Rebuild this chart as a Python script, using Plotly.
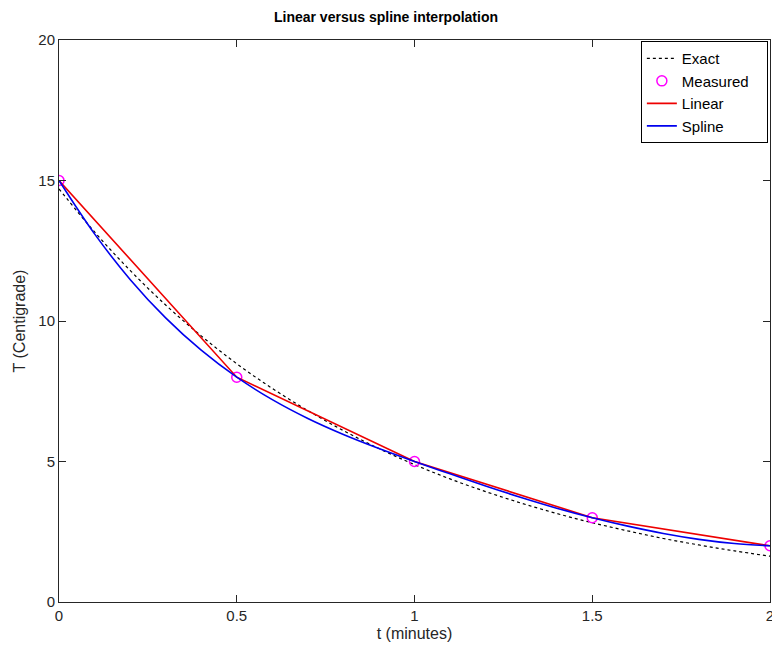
import plotly.graph_objects as go

# Measured data
t_meas = [0, 0.5, 1.0, 1.5, 2.0]
T_meas = [15, 8, 5, 3, 2]

# Dense t grid for the curves
t_fine = [0.0, 0.1, 0.2, 0.3, 0.4, 0.5, 0.6, 0.7, 0.8, 0.9, 1.0,
          1.1, 1.2, 1.3, 1.4, 1.5, 1.6, 1.7, 1.8, 1.9, 2.0]
# Exact curve values
T_exact = [14.70, 13.17, 11.80, 10.57, 9.47, 8.48, 7.60, 6.81, 6.10, 5.46, 4.89,
           4.38, 3.93, 3.52, 3.15, 2.82, 2.53, 2.26, 2.03, 1.82, 1.63]
# Spline curve values
T_spline = [15.00, 13.10, 11.48, 10.11, 8.96, 8.00, 7.20, 6.53, 5.96, 5.46, 5.00,
            4.56, 4.13, 3.72, 3.34, 3.00, 2.70, 2.44, 2.23, 2.08, 2.00]

x_ticks = [0, 0.5, 1, 1.5, 2]
x_tick_labels = ["0", "0.5", "1", "1.5", "2"]
y_ticks = [0, 5, 10, 15, 20]
y_tick_labels = ["0", "5", "10", "15", "20"]

FONT = "Liberation Sans, Arial, Helvetica, sans-serif"
PAD = "\u00a0\u00a0\u00a0"

fig = go.Figure()
fig.add_trace(go.Scatter(x=t_fine, y=T_exact, mode="lines", name="Exact" + PAD,
                         line=dict(color="black", width=1.2, dash="dot", shape="spline")))
fig.add_trace(go.Scatter(x=t_meas, y=T_meas, mode="markers", name="Measured" + PAD,
                         marker=dict(symbol="circle-open", size=10, color="#ff00ff",
                                     line=dict(width=1.5, color="#ff00ff"))))
fig.add_trace(go.Scatter(x=t_meas, y=T_meas, mode="lines", name="Linear" + PAD,
                         line=dict(color="#ee0000", width=1.6)))
fig.add_trace(go.Scatter(x=t_fine, y=T_spline, mode="lines", name="Spline" + PAD,
                         line=dict(color="#0000ee", width=1.6, shape="spline")))

axis_common = dict(showgrid=False, zeroline=False, showline=True, linecolor="#262626",
                   linewidth=1, mirror="ticks", ticks="inside", ticklen=7,
                   tickcolor="#262626", tickwidth=1, automargin=False,
                   ticklabeloverflow="allow",
                   tickfont=dict(family=FONT, size=15, color="#262626"))

fig.update_layout(
    width=772, height=650,
    margin=dict(l=59, r=2, t=40, b=48),
    paper_bgcolor="white", plot_bgcolor="white",
    title=dict(text="<b>Linear versus spline interpolation</b>", x=0.5, xref="container",
               y=1 - 17 / 650, yref="container", yanchor="middle", xanchor="center",
               font=dict(family=FONT, size=14, color="black")),
    xaxis=dict(range=[0, 2], tickvals=x_ticks, ticktext=x_tick_labels,
               title=dict(text="t (minutes)", standoff=4,
                          font=dict(family=FONT, size=16, color="#262626")),
               **axis_common),
    yaxis=dict(range=[0, 20], tickvals=y_ticks, ticktext=y_tick_labels,
               title=dict(text="T (Centigrade)", standoff=8,
                          font=dict(family=FONT, size=16, color="#262626")),
               **axis_common),
    legend=dict(x=0.997, y=0.998, xanchor="right", yanchor="top",
                bordercolor="black", borderwidth=1, bgcolor="white",
                font=dict(family=FONT, size=15, color="black"),
                tracegroupgap=0, itemwidth=30),
    showlegend=True,
)

fig.write_html("out.html", config={"displayModeBar": False},
               post_script="document.body.style.margin='0';document.body.style.padding='0';")
